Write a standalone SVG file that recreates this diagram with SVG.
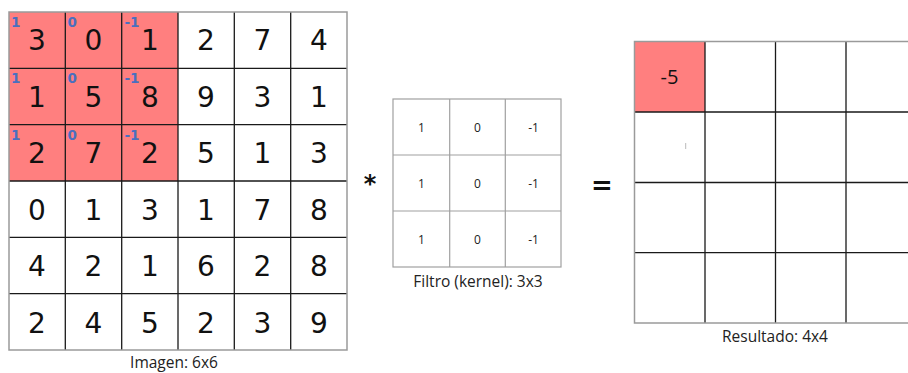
<svg xmlns="http://www.w3.org/2000/svg" width="908" height="373" viewBox="0 0 908 373">
<style>
.bg{fill:#ffffff}
.hi{fill:#ff7f7f}
.gl{stroke:#1a1a1a;stroke-width:1.3;fill:none}
.ob{stroke:#9a9a9a;stroke-width:1.5;fill:none}
.kl{stroke:#a0a0a0;stroke-width:1.2;fill:none}
.num{font-family:"DejaVu Sans",sans-serif;font-size:28px;fill:#111;text-anchor:middle}
.w{font-family:"DejaVu Sans",sans-serif;font-size:13.5px;font-weight:bold;fill:#4a6fbf}
.k{font-family:"Open Sans",sans-serif;font-size:12px;fill:#222;text-anchor:middle}
.lab{font-family:"Open Sans",sans-serif;font-size:15.5px;fill:#222;text-anchor:middle}
.r{font-family:"Open Sans",sans-serif;font-size:20px;fill:#111;text-anchor:middle}
.op{font-family:"DejaVu Sans",sans-serif;font-weight:bold;fill:#111;text-anchor:middle}
</style>
<rect class="bg" width="908" height="373"/>

<g id="image">
<rect class="hi" x="9" y="12" width="169" height="169"/>
<path class="gl" d="M65.3 12V350M121.7 12V350M178 12V350M234.3 12V350M290.7 12V350M9 68.3H347M9 124.7H347M9 181H347M9 237.3H347M9 293.7H347"/>
<rect class="ob" x="9" y="12" width="338" height="338"/>
<g class="num">
<text x="37" y="50">3</text><text x="93.5" y="50">0</text><text x="150" y="50">1</text><text x="206" y="50">2</text><text x="262.5" y="50">7</text><text x="319" y="50">4</text>
<text x="37" y="106.5">1</text><text x="93.5" y="106.5">5</text><text x="150" y="106.5">8</text><text x="206" y="106.5">9</text><text x="262.5" y="106.5">3</text><text x="319" y="106.5">1</text>
<text x="37" y="163">2</text><text x="93.5" y="163">7</text><text x="150" y="163">2</text><text x="206" y="163">5</text><text x="262.5" y="163">1</text><text x="319" y="163">3</text>
<text x="37" y="219.5">0</text><text x="93.5" y="219.5">1</text><text x="150" y="219.5">3</text><text x="206" y="219.5">1</text><text x="262.5" y="219.5">7</text><text x="319" y="219.5">8</text>
<text x="37" y="276">4</text><text x="93.5" y="276">2</text><text x="150" y="276">1</text><text x="206" y="276">6</text><text x="262.5" y="276">2</text><text x="319" y="276">8</text>
<text x="37" y="332.5">2</text><text x="93.5" y="332.5">4</text><text x="150" y="332.5">5</text><text x="206" y="332.5">2</text><text x="262.5" y="332.5">3</text><text x="319" y="332.5">9</text>
</g>
<g class="w">
<text x="11" y="26.5">1</text><text x="67.5" y="26.5">0</text><text x="124.5" y="26.5">-1</text>
<text x="11" y="83">1</text><text x="67.5" y="83">0</text><text x="124.5" y="83">-1</text>
<text x="11" y="139.5">1</text><text x="67.5" y="139.5">0</text><text x="124.5" y="139.5">-1</text>
</g>
<text class="lab" x="174" y="368">Imagen: 6x6</text>
</g>

<g id="operator-conv">
<text class="op" x="370" y="192" font-size="24">*</text>
</g>

<g id="kernel">
<path class="kl" d="M449.7 99V267M505.3 99V267M393 155H561M393 211H561"/>
<rect class="kl" x="393" y="99" width="168" height="168"/>
<g class="k">
<text x="421.5" y="131.5">1</text><text x="477.5" y="131.5">0</text><text x="533.5" y="131.5">-1</text>
<text x="421.5" y="188">1</text><text x="477.5" y="188">0</text><text x="533.5" y="188">-1</text>
<text x="421.5" y="244">1</text><text x="477.5" y="244">0</text><text x="533.5" y="244">-1</text>
</g>
<text class="lab" x="478" y="287">Filtro (kernel): 3x3</text>
</g>

<g id="operator-eq">
<text class="op" x="602" y="194" font-size="26">=</text>
</g>

<g id="result">
<rect class="hi" x="634.5" y="41.5" width="70.5" height="70.5"/>
<path class="gl" d="M705 41.5V323M775.5 41.5V323M846 41.5V323M634.5 112H908M634.5 182.5H908M634.5 252.7H908"/>
<path class="ob" d="M908 41.5H634.5V323H908"/>
<text class="r" x="669.5" y="83.5">-5</text>
<line x1="685.7" y1="143" x2="685.7" y2="149" stroke="#bbbbbb" stroke-width="1"/>
<text class="lab" x="775" y="342">Resultado: 4x4</text>
</g>
</svg>
